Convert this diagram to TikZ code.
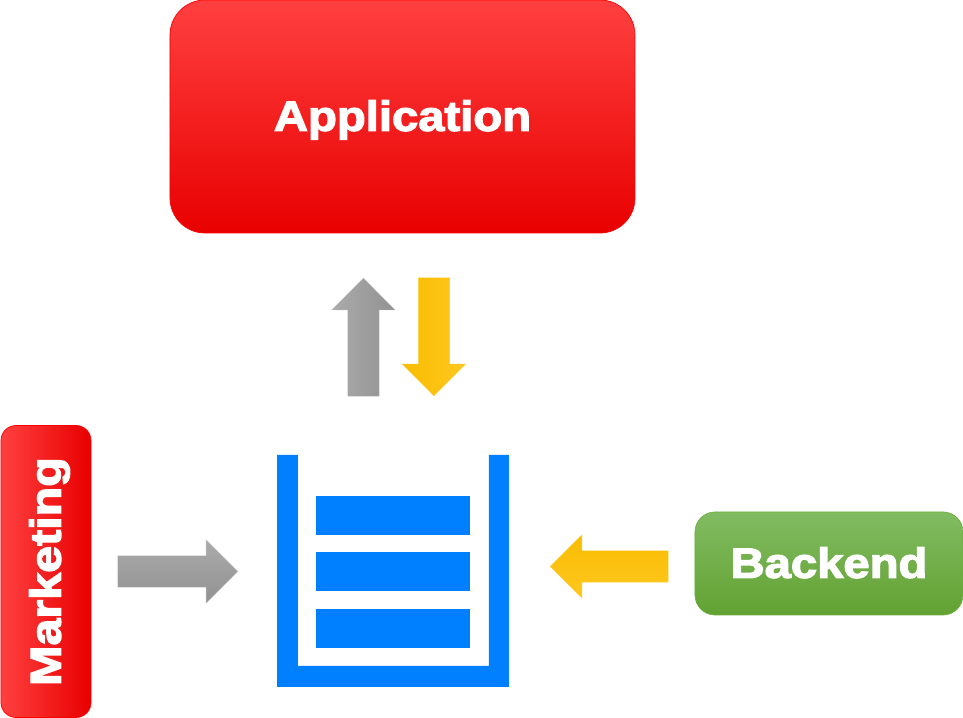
\documentclass[tikz,border=0pt]{standalone}
\usepackage{fontspec}
\usetikzlibrary{shapes.arrows}
\newfontfamily\boxfont{Liberation Sans}[BoldFeatures={FakeBold=3,FakeStretch=1.12}]
\definecolor{queueblue}{HTML}{0080FF}
\definecolor{greentop}{HTML}{82BB62}
\definecolor{greenmid}{HTML}{6CB03E}
\definecolor{greenlow}{HTML}{62A232}
\definecolor{yellowhigh}{HTML}{FFC820}
\definecolor{yellowmid}{HTML}{FFC000}
\definecolor{yellowlow}{HTML}{F8BC00}
\begin{document}
\begin{tikzpicture}
		\tikzstyle{redbox}=[draw=red,line width=0.2pt,top color=red!75!white,middle color=red,bottom color=red!91!black,text=white,font=\boxfont\bfseries\fontsize{12}{14}\selectfont,inner sep=0pt,text depth=0.02cm]
		\tikzstyle{greenbox}=[redbox,draw=greenmid,top color=greentop,middle color=greenmid,bottom color=greenlow]
		\tikzstyle{blockarrow}=[shape=single arrow,anchor=tip,inner xsep=0pt,inner ysep=0.155cm,single arrow head extend=0.16cm,minimum height=1.18cm,minimum width=0.63cm]
		\tikzstyle{grayarrow}=[blockarrow,draw=black!25,line width=0.1pt,top color=black!33,middle color=black!36,bottom color=black!43]
		\tikzstyle{yellowarrow}=[blockarrow,draw=yellowmid!80!white,line width=0.1pt,top color=yellowhigh,middle color=yellowmid,bottom color=yellowlow]
		\tikzstyle{queuebar}=[fill=queueblue,minimum width=1.54cm,minimum height=0.39cm,inner sep=0pt]

		\path[use as bounding box] (0,0) rectangle (9.63,7.18);

		\node[redbox,rounded corners=0.35cm,minimum width=4.65cm,minimum height=2.33cm](application) at (4.025,6.015){Application};
		\node[redbox,rounded corners=0.15cm,rotate=90,shading angle=90,minimum width=2.92cm,minimum height=0.9cm,font=\boxfont\bfseries\fontsize{12.3}{14}\selectfont](marketing) at (0.46,1.465){Marketing};
		\node[greenbox,rounded corners=0.2cm,minimum width=2.68cm,minimum height=1.03cm](backend) at (8.29,1.545){Backend};

		\node[grayarrow,rotate=90,shading angle=90](pull) at (3.635,4.40){};
		\node[yellowarrow,rotate=-90,shading angle=-90](push) at (4.34,3.22){};
		\node[grayarrow,minimum height=1.2cm](enqueue) at (2.38,1.465){};
		\node[yellowarrow,rotate=180,shading angle=180](reply) at (5.50,1.515){};

		\fill[queueblue] (2.77,2.63) -- (2.77,0.31) -- (5.09,0.31) -- (5.09,2.63) -- (4.89,2.63) -- (4.89,0.52) -- (2.98,0.52) -- (2.98,2.63) -- cycle;
		\node[queuebar](first) at (3.93,2.025){};
		\node[queuebar](second) at (3.93,1.465){};
		\node[queuebar](third) at (3.93,0.895){};
	\end{tikzpicture}
\end{document}
